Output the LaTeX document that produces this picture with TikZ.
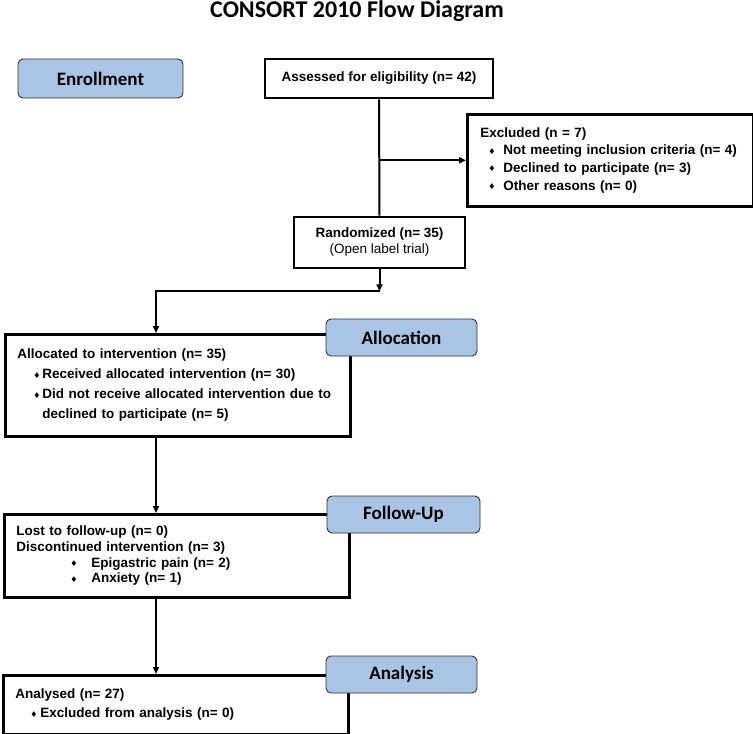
\documentclass[tikz,border=0pt]{standalone}
\usepackage{fontspec}
\setmainfont{Liberation Sans}
\newfontfamily\calfont{Carlito}
\newfontfamily\symfont{DejaVu Sans}
\usetikzlibrary{arrows.meta}
\definecolor{stageblue}{RGB}{170,196,230}
\definecolor{stageline}{RGB}{50,50,50}
% small diamond bullet: offset, then room before the text
\newcommand{\dmd}{\raisebox{0.1ex}{\symfont\fontsize{8}{8}\selectfont ♦}}
\newcommand{\itm}[2]{\hspace*{#1}\makebox[#2][l]{\dmd}}

\begin{document}
\begin{tikzpicture}[x=1pt,y=-1pt,
  stage/.style={draw=stageline, line width=0.9pt, fill=stageblue, rounded corners=5pt,
    inner sep=0pt, font=\calfont\bfseries\fontsize{19}{22}\selectfont},
  box/.style={draw, line width=2.6pt, fill=white, inner sep=0pt,
    font=\bfseries\fontsize{13.5}{#1}\selectfont},
  link/.style={line width=2pt},
  flow/.style={line width=2pt, -{Triangle[length=7pt,width=6pt]}}]
\useasboundingbox (0,0) rectangle (753,734);
% titre
\node [anchor=base, font=\calfont\bfseries\fontsize{24}{28}\selectfont] (title) at (357,17.5) {CONSORT 2010 Flow Diagram};
% enrollment
\node [box=16, minimum width=228, minimum height=39] (assess) at (379,78.5) {Assessed for eligibility (n= 42)};
\node [box=17.7, anchor=north west, text width=260, inner xsep=13, minimum height=92, align=left] (excl) at (466,113)
  {Excluded (n = 7)\\
   \itm{8pt}{15pt}Not meeting inclusion criteria (n= 4)\\
   \itm{8pt}{15pt}Declined to participate (n= 3)\\
   \itm{8pt}{15pt}Other reasons (n= 0)};
\node [box=16, minimum width=171, minimum height=51, align=center] (rand) at (379.5,242.5)
  {Randomized (n= 35)\\ \mdseries(Open label trial)};
% allocation
\node [box=20, anchor=north west, text width=321, inner xsep=12, minimum height=102, align=left] (alloc) at (4,333)
  {Allocated to intervention (n= 35)\\
   \itm{16pt}{9pt}Received allocated intervention (n= 30)\\
   \itm{16pt}{9pt}Did not receive allocated intervention due to\\
   \hspace*{25pt}declined to participate (n= 5)};
% follow-up
\node [box=15.7, anchor=north west, text width=321, inner xsep=12, minimum height=83, align=left] (follow) at (3,513)
  {Lost to follow-up (n= 0)\\
   Discontinued intervention (n= 3)\\
   \itm{54pt}{21pt}Epigastric pain (n= 2)\\
   \itm{54pt}{21pt}Anxiety (n= 1)};
% analysis
\node [box=19, anchor=north west, text width=321, inner xsep=12, minimum height=59, align=left] (anal) at (2,674)
  {Analysed (n= 27)\\
   \itm{15pt}{10pt}Excluded from analysis (n= 0)};
% etapes
\node [stage, minimum width=165, minimum height=39] (enrol) at (100.5,78.5) {Enrollment};
\node [stage, minimum width=151, minimum height=37] (allocstage) at (401.5,337.5) {Allocation};
\node [stage, minimum width=153, minimum height=37] (followstage) at (403.5,514.5) {Follow-Up};
\node [stage, minimum width=151, minimum height=37] (analstage) at (401.5,674.5) {Analysis};
% fleches
\coordinate (split) at (assess.south |- excl.west);
\coordinate (leftcol) at (156,0);
\draw [link] (assess.south) -- (rand.north);
\draw [flow] (split) -- (excl.west);
\draw [flow] (rand.south) -- ++(0,22) coordinate (turn);
\draw [flow] (turn) -| (leftcol |- alloc.north);
\draw [flow] (leftcol |- alloc.south) -- (leftcol |- follow.north);
\draw [flow] (leftcol |- follow.south) -- (leftcol |- anal.north);
\end{tikzpicture}
\end{document}
